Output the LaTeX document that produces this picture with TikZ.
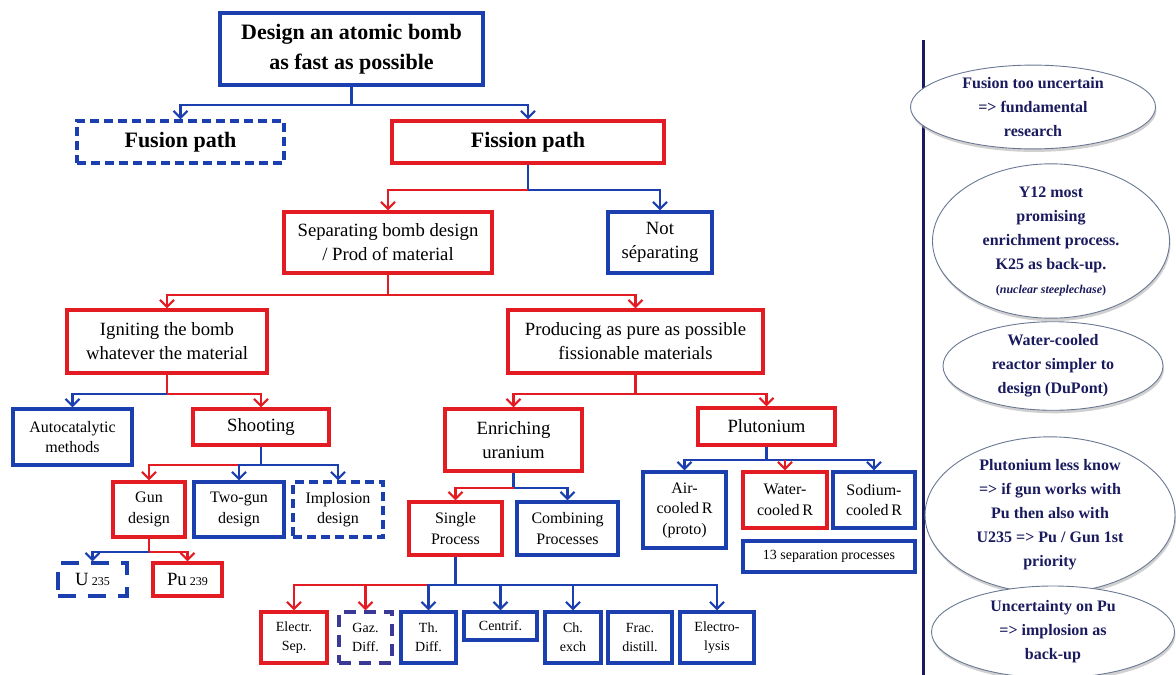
\documentclass[tikz,border=0pt]{standalone}
\usepackage{fontspec}
\setmainfont{Liberation Serif}
\usetikzlibrary{arrows.meta,shapes.geometric,shadows,calc}
\definecolor{rr}{HTML}{E31B23}
\definecolor{bb}{HTML}{1B3FAE}
\definecolor{pp}{HTML}{3A3A96}
\definecolor{nv}{HTML}{1A1A5E}
\definecolor{eo}{HTML}{6B7894}
\begin{document}
\begin{tikzpicture}[x=1pt,y=-1pt,
 box/.style={draw,line width=3.2pt,inner sep=1pt,align=center,fill=white,text=black},
 rbox/.style={box,draw=rr},
 bbox/.style={box,draw=bb},
 dbox/.style={box,draw=bb,dash pattern=on 9pt off 5pt},
 conn/.style={line width=2.2pt},
 arr/.style={conn,-{Straight Barb[length=7pt,width=14pt]}},
 rc/.style={conn,draw=rr},
 bc/.style={conn,draw=bb},
 ra/.style={arr,draw=rr},
 ba/.style={arr,draw=bb},
 big/.style={font=\bfseries\fontsize{22}{30}\selectfont},
 f17/.style={font=\fontsize{18.7}{24}\selectfont},
 f15/.style={font=\fontsize{16}{20.5}\selectfont},
 f13/.style={font=\fontsize{14}{19}\selectfont},
 ell/.style={ellipse,draw=eo,line width=0.9pt,fill=white,inner sep=0pt,align=center,text=nv,
   font=\bfseries\fontsize{16}{24}\selectfont,
   drop shadow={shadow xshift=1pt,shadow yshift=-3pt,fill=gray!60,opacity=0.6}},
 wh/.style 2 args={minimum width=#1pt,minimum height=#2pt}
]
\useasboundingbox (0,0) rectangle (1176,675);
\fill[white] (0,0) rectangle (1176,675);

% boxes
\node[bbox,big,wh={263}{72}] (top) at (351.5,49) {Design an atomic bomb\\as fast as possible};
\node[dbox,big,wh={207}{42}] (fusion) at (180.5,142) {Fusion path};
\node[rbox,big,wh={272}{42}] (fission) at (528,142) {Fission path};
\node[rbox,f17,wh={208}{61}] (sep) at (388,242.5) {Separating bomb design\\/ Prod of material};
\node[bbox,f17,wh={104}{61}] (notsep) at (660,242.5) {Not\\séparating};
\node[rbox,f17,wh={200}{63}] (ign) at (167,341.5) {Igniting the bomb\\whatever the material};
\node[rbox,f17,wh={255}{63}] (prod) at (635.5,341.5) {Producing as pure as possible\\fissionable materials};
\node[bbox,f15,wh={119}{56}] (auto) at (72.5,437) {Autocatalytic\\methods};
\node[rbox,f17,wh={136}{36}] (shoot) at (261,427) {Shooting};
\node[rbox,f15,wh={72}{55}] (gun) at (149,509.5) {Gun\\design};
\node[bbox,f15,wh={90}{55}] (twogun) at (239,509.5) {Two-gun\\design};
\node[dbox,f15,wh={90}{55}] (impl) at (338,509.5) {Implosion\\design};
\node[box,draw=bb,dash pattern=on 18pt off 12pt,f17,wh={69}{33}] (u) at (92.5,579.5) {U\,{\fontsize{12}{12}\selectfont 235}};
\node[rbox,f17,wh={69}{33}] (pu) at (187.5,579.5) {Pu\,{\fontsize{12}{12}\selectfont 239}};
\node[rbox,f17,wh={137}{62}] (enr) at (513.5,440) {Enriching\\uranium};
\node[rbox,f15,wh={93}{53}] (single) at (455.5,528.5) {Single\\Process};
\node[bbox,f15,wh={101}{53}] (comb) at (567.5,528.5) {Combining\\Processes};
\node[rbox,f17,wh={137}{37}] (plut) at (766.5,426.5) {Plutonium};
\node[bbox,f15,wh={83}{76}] (air) at (684.5,510) {Air-\\cooled\,R\\(proto)};
\node[rbox,f15,wh={84}{56}] (water) at (785,500) {Water-\\cooled\,R};
\node[bbox,f15,wh={82}{56}] (sodium) at (874,500) {Sodium-\\cooled\,R};
\node[bbox,f13,wh={172}{31}] (sep13) at (829,556.5) {13 separation processes};
\node[rbox,f13,wh={66}{51}] (electr) at (294,637.5) {Electr.\\Sep.};
\node[box,draw=pp,dash pattern=on 12pt off 8pt,f13,wh={53}{51}] (gaz) at (365.5,637.5) {Gaz.\\Diff.};
\node[bbox,f13,wh={55}{51}] (th) at (428.5,637.5) {Th.\\Diff.};
\node[bbox,f13,wh={73}{28}] (centrif) at (500.5,626) {Centrif.};
\node[bbox,f13,wh={56}{51}] (ch) at (573,637.5) {Ch.\\exch};
\node[bbox,f13,wh={64}{51}] (frac) at (640,637.5) {Frac.\\distill.};
\node[bbox,f13,wh={74}{51}] (electro) at (717,637.5) {Electro-\\lysis};

% connectors
\draw[bc] (top.south) -- ++(0,18) coordinate (topb);
\draw[ba] (topb) -| (fusion.north);
\draw[ba] (topb) -| (fission.north);

\draw[bc] (fission.south) -- ++(0,25) coordinate (fisb);
\draw[ra] (fisb) -| (sep.north);
\draw[ba] (fisb) -| (notsep.north);

\draw[rc] (sep.south) -- ++(0,20) coordinate (sepb);
\draw[ra] (sepb) -| (ign.north);
\draw[ra] (sepb) -| (prod.north);

\draw[rc] (ign.south) -- ++(0,19) coordinate (ignb);
\draw[ba] (ignb) -| (auto.north);
\draw[ra] (ignb) -| (shoot.north);

\draw[bc] (shoot.south) -- ++(0,18) coordinate (shb);
\draw[ra] (shb) -| (gun.north);
\draw[ba] (shb) -| (twogun.north);
\draw[ba] (shb) -| (impl.north);

\draw[rc] (gun.south) -- ++(0,13) coordinate (gunb);
\draw[ba] (gunb) -| (u.north);
\draw[ra] (gunb) -| (pu.north);

\draw[rc] (prod.south) -- ++(0,19) coordinate (prodb);
\draw[ra] (prodb) -| (enr.north);
\draw[ra] (prodb) -| (plut.north);

\draw[bc] (enr.south) -- ++(0,15) coordinate (enrb);
\draw[ra] (enrb) -| (single.north);
\draw[ba] (enrb) -| (comb.north);

\draw[bc] (plut.south) -- ++(0,13) coordinate (plb);
\draw[ba] (plb) -| (air.north);
\draw[ba] (plb) -| (sodium.north);
\draw[ra] (water.north |- plb) -- (water.north);

\draw[bc] (single.south) -- ++(0,28) coordinate (sib);
\draw[ra] (sib) -| (electr.north);
\draw[ra] (sib) -| (gaz.north);
\draw[ba] (sib) -| (th.north);
\draw[ba] (sib) -| (centrif.north);
\draw[ba] (sib) -| (ch.north);
\draw[ba] (sib) -| (electro.north);

% divider
\draw[nv,line width=3pt] (923,40) -- (923,675);

% ellipses
\node[ell,minimum width=245pt,minimum height=79pt] (e1) at (1033,107) {Fusion too uncertain\\=> fundamental\\research};
\node[ell,minimum width=237pt,minimum height=126pt] (e2) at (1051,241) {Y12 most\\promising\\enrichment process.\\K25 as back-up.\\{\fontsize{12}{14}\selectfont(\textit{nuclear steeplechase})}};
\node[ell,minimum width=220pt,minimum height=88pt] (e3) at (1053,366) {Water-cooled\\reactor simpler to\\design (DuPont)};
\node[ell,minimum width=250pt,minimum height=131pt] (e4) at (1050,515) {Plutonium less know\\=> if gun works with\\Pu then also with\\U235 => Pu / Gun 1st\\priority};
\node[ell,minimum width=243pt,minimum height=92pt] (e5) at (1053,632) {Uncertainty on Pu\\=> implosion as\\back-up};
\end{tikzpicture}
\end{document}
